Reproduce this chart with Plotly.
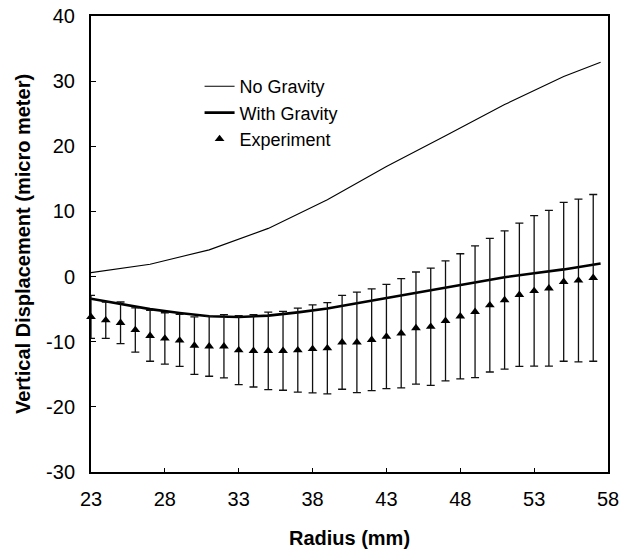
import plotly.graph_objects as go

# Model curves: vertical displacement (micro meter) versus radius (mm)
radius_model = [23, 27, 31, 35, 39, 43, 47, 51, 55, 57.5]
no_gravity = [0.6, 1.9, 4.1, 7.4, 11.8, 16.9, 21.6, 26.4, 30.7, 32.9]

radius_grav = [23, 25, 27, 29, 31, 33, 35, 37, 39, 41, 43, 45, 47, 49, 51, 53, 55, 57.5]
with_gravity = [-3.4, -4.2, -5.0, -5.6, -6.1, -6.2, -6.0, -5.5, -4.9, -4.1,
                -3.3, -2.5, -1.8, -1.0, -0.1, 0.5, 1.1, 2.0]

# Measured displacement with its scatter
radius_exp = list(range(23, 58))
exp_mean = [-6.2, -6.7, -7.1, -8.2, -9.1, -9.5, -9.8, -10.6, -10.7, -10.7,
            -11.3, -11.4, -11.4, -11.4, -11.3, -11.1, -11.0, -10.1, -10.1, -9.7,
            -9.2, -8.7, -7.9, -7.7, -6.8, -6.1, -5.4, -4.4, -3.6, -2.8,
            -2.2, -1.8, -0.8, -0.6, -0.2]
exp_err = [3.3, 2.8, 3.2, 3.4, 3.9, 3.95, 4.0, 4.4, 4.6, 4.85,
           5.3, 5.55, 5.95, 6.05, 6.45, 6.75, 7.0, 7.2, 7.7, 7.8,
           8.0, 8.4, 8.6, 9.0, 9.2, 9.6, 10.1, 10.25, 10.6, 11.0,
           11.55, 11.95, 12.2, 12.5, 12.8]

x_ticks = [23, 28, 33, 38, 43, 48, 53, 58]
y_ticks = [-30, -20, -10, 0, 10, 20, 30, 40]

FONT = "Liberation Sans, Arial, sans-serif"

fig = go.Figure()
fig.add_trace(go.Scatter(
    x=radius_model, y=no_gravity, mode="lines", name="No Gravity",
    line=dict(color="black", width=1.1), cliponaxis=False))
fig.add_trace(go.Scatter(
    x=radius_grav, y=with_gravity, mode="lines", name="With Gravity",
    line=dict(color="black", width=2.6), cliponaxis=False))
fig.add_trace(go.Scatter(
    x=radius_exp, y=exp_mean, mode="markers", name="Experiment",
    marker=dict(symbol="triangle-up", size=8.5, color="black"),
    error_y=dict(type="data", array=exp_err, visible=True,
                 color="#111111", thickness=1.3, width=4),
    cliponaxis=False))

fig.update_layout(
    width=630, height=550,
    margin=dict(l=91, r=22, t=16, b=78, autoexpand=False),
    paper_bgcolor="white", plot_bgcolor="white",
    font=dict(family=FONT, color="black", size=20),
    showlegend=True,
    legend=dict(x=0.21, y=0.886, xanchor="left", yanchor="top",
                bgcolor="rgba(0,0,0,0)", font=dict(size=18),
                tracegroupgap=0, itemwidth=30),
)
fig.update_xaxes(
    range=[23, 58], tickvals=x_ticks, ticktext=[str(v) for v in x_ticks],
    showgrid=False, zeroline=False, automargin=False,
    showline=True, linecolor="black", linewidth=2, mirror=True,
    ticks="inside", ticklen=4, tickwidth=1, tickcolor="black",
    ticklabelstandoff=8,
    title=dict(text="<b>Radius (mm)</b>", font=dict(size=20), standoff=22),
)
fig.update_yaxes(
    range=[-30, 40], tickvals=y_ticks, ticktext=[str(v) for v in y_ticks],
    showgrid=False, zeroline=False, automargin=False,
    showline=True, linecolor="black", linewidth=2, mirror=True,
    ticks="inside", ticklen=5, tickwidth=1, tickcolor="black",
    ticklabelstandoff=10,
    title=dict(text="<b>Vertical Displacement (micro meter)</b>",
               font=dict(size=20), standoff=10),
)

fig.write_html("out.html")
